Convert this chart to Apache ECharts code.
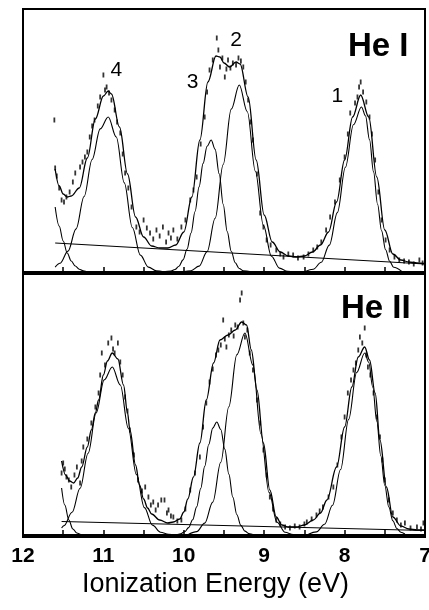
<!DOCTYPE html>
<html>
<head>
<meta charset="utf-8">
<script src="https://cdn.jsdelivr.net/npm/echarts@6/dist/echarts.min.js"></script>
<style>
html,body{margin:0;padding:0;background:#fff;}
#chart{width:429px;height:610px;}
</style>
</head>
<body>
<div id="chart"></div>
<script>
// ---------- axis ----------
const xTickLabels = [12, 11, 10, 9, 8, 7];
const xAxisTitle = 'Ionization Energy (eV)';
const panelTitles = ['He I', 'He II'];

// ---------- He I panel (top) : [energy eV, intensity] ----------
const heI_envelope = [[11.6,103],[11.55,86],[11.5,78],[11.45,75],[11.4,76],[11.3,84],[11.2,114],[11.1,153],[11.0,176],[10.94,181],[10.9,178],[10.8,145],[10.7,98],[10.6,55],[10.5,35],[10.4,26],[10.3,24],[10.2,24],[10.1,27],[10.0,40],[9.9,75],[9.8,132],[9.7,190],[9.6,216],[9.55,215],[9.5,209],[9.43,205],[9.35,210],[9.3,208],[9.2,175],[9.1,112],[9.0,57],[8.9,30],[8.8,20],[8.7,16],[8.6,15],[8.5,16],[8.4,20],[8.3,27],[8.2,40],[8.1,70],[8.0,112],[7.9,155],[7.8,177],[7.7,155],[7.6,95],[7.5,42],[7.4,18],[7.3,12],[7.2,10],[7.1,9],[7.0,8.5]];
const heI_baseline = [[11.6,29],[7.0,8]];
const heI_band5 = [[11.6,65],[11.55,46],[11.5,31],[11.45,19],[11.4,11],[11.35,6],[11.3,2.8],[11.25,1.1],[11.2,0.3],[11.15,0]];
const heI_band4 = [[11.6,4.8],[11.54,8.7],[11.44,20.9],[11.34,43.1],[11.24,75.5],[11.14,112.5],[11.04,143.1],[10.94,155],[10.84,135],[10.74,89.1],[10.64,44.5],[10.54,16.9],[10.44,4.9],[10.34,1.1],[10.24,0]];
const heI_band3 = [[10.26,0.1],[10.16,1.0],[10.11,2.5],[10.06,5.8],[10.01,12.1],[9.96,22.7],[9.91,39],[9.86,60.5],[9.81,85.1],[9.76,108.6],[9.71,125.7],[9.66,132],[9.61,122.6],[9.56,98.2],[9.51,67.8],[9.46,40.4],[9.41,20.8],[9.36,9.2],[9.31,3.5],[9.26,1.2],[9.16,0.1]];
const heI_band2 = [[10.01,0.2],[9.91,1.3],[9.81,5.9],[9.71,20.4],[9.61,53.7],[9.51,107.5],[9.41,162.9],[9.31,187],[9.21,160.3],[9.11,100.8],[9.01,46.6],[8.91,15.8],[8.81,3.9],[8.71,0.7],[8.61,0.1]];
const heI_band1 = [[8.49,0.6],[8.39,2.8],[8.29,9.7],[8.19,26.9],[8.09,59.4],[7.99,104.8],[7.89,147.3],[7.79,165],[7.74,156.1],[7.69,132.2],[7.64,100.1],[7.59,67.8],[7.54,41.1],[7.49,22.3],[7.44,10.8],[7.39,4.7],[7.29,0.6]];
const heI_points = [[11.61,152],[11.6,104],[11.58,96],[11.55,84],[11.52,72],[11.49,70],[11.46,75],[11.42,80],[11.38,90],[11.35,99],[11.29,105],[11.26,110],[11.23,115],[11.2,120],[11.17,135],[11.14,146],[11.11,152],[11.07,166],[11.04,175],[11.0,197],[10.98,182],[10.96,185],[10.93,179],[10.9,172],[10.86,162],[10.83,150],[10.79,139],[10.76,118],[10.73,99],[10.69,84],[10.65,65],[10.59,45],[10.55,40],[10.5,52],[10.46,44],[10.42,39],[10.38,33],[10.34,42],[10.3,36],[10.26,45],[10.22,30],[10.19,39],[10.16,34],[10.13,42],[10.08,33],[10.03,45],[9.98,52],[9.92,72],[9.88,82],[9.84,95],[9.79,128],[9.74,155],[9.71,180],[9.68,202],[9.64,212],[9.59,234],[9.57,222],[9.55,205],[9.52,214],[9.49,195],[9.47,203],[9.45,212],[9.42,204],[9.39,209],[9.35,207],[9.32,214],[9.29,211],[9.26,205],[9.23,190],[9.2,172],[9.17,150],[9.14,132],[9.09,98],[9.05,59],[9.01,45],[8.97,32],[8.92,27],[8.85,22],[8.8,18],[8.76,15],[8.7,18],[8.64,17],[8.58,14],[8.51,15],[8.45,18],[8.39,22],[8.34,25],[8.29,30],[8.23,42],[8.18,55],[8.12,70],[8.06,92],[8.0,115],[7.96,138],[7.93,159],[7.87,169],[7.84,175],[7.82,185],[7.8,190],[7.77,180],[7.73,170],[7.69,155],[7.66,138],[7.62,112],[7.58,80],[7.54,52],[7.49,32],[7.44,22],[7.38,15],[7.32,12],[7.26,11],[7.2,10],[7.14,8],[7.07,12],[7.03,9]];
const heI_peakLabels = [[10.84,202,'4'],[9.89,190,'3'],[9.35,232,'2'],[8.09,176,'1']];

// ---------- He II panel (bottom) ----------
const heII_envelope = [[11.52,74],[11.47,60],[11.42,54],[11.37,52],[11.32,57],[11.27,68],[11.2,88],[11.15,105],[11.1,122],[11.06,135],[11.0,160],[10.95,174],[10.89,182],[10.82,176],[10.75,150],[10.7,122],[10.67,105],[10.6,70],[10.55,50],[10.5,36],[10.45,27],[10.4,21],[10.3,15],[10.2,12],[10.13,13],[10.05,16],[10.0,23],[9.95,36],[9.88,58],[9.8,92],[9.72,135],[9.63,172],[9.55,195],[9.45,200],[9.36,205],[9.28,213],[9.22,210],[9.16,185],[9.09,145],[9.01,92],[8.93,45],[8.85,18],[8.78,10],[8.7,8],[8.6,8],[8.5,10],[8.39,15],[8.3,22],[8.22,35],[8.1,68],[8.0,108],[7.91,148],[7.83,178],[7.75,188],[7.69,175],[7.62,142],[7.56,95],[7.48,48],[7.4,18],[7.3,9],[7.2,6],[7.1,5],[7.0,5]];
const heII_baseline = [[11.52,13.5],[7.0,4.5]];
const heII_band5 = [[11.52,47],[11.48,30],[11.43,15],[11.38,6],[11.33,2],[11.28,0.5],[11.24,0]];
const heII_band4 = [[11.52,7.0],[11.49,9.4],[11.39,22.7],[11.29,46.7],[11.19,81.8],[11.09,122],[10.99,155.1],[10.89,168],[10.79,150],[10.69,106.7],[10.59,60.5],[10.49,27.4],[10.39,9.9],[10.29,2.8],[10.19,0.7],[10.09,0.1]];
const heII_band3 = [[10.14,0.1],[10.09,0.4],[10.04,1.2],[9.99,3.2],[9.94,7.4],[9.89,15.3],[9.84,28.1],[9.79,46.4],[9.74,68.6],[9.69,90.5],[9.64,106.9],[9.59,113],[9.54,105.5],[9.49,85.9],[9.44,60.9],[9.39,37.7],[9.34,20.3],[9.29,9.6],[9.24,3.9],[9.19,1.4],[9.14,0.4],[9.09,0.1]];
const heII_band2 = [[9.94,0.8],[9.84,3.4],[9.74,11.9],[9.64,32.9],[9.54,72.7],[9.44,128.3],[9.34,180.4],[9.24,202],[9.14,169.9],[9.04,101],[8.94,42.6],[8.84,12.7],[8.74,2.7],[8.64,0.4],[8.54,0]];
const heII_band1 = [[8.45,0.7],[8.35,3.1],[8.25,10.7],[8.15,29.7],[8.05,65.5],[7.95,115.6],[7.85,162.5],[7.75,182],[7.7,172.7],[7.65,147.8],[7.6,113.9],[7.55,79.2],[7.5,49.5],[7.45,28],[7.4,14.2],[7.35,6.5],[7.3,2.7],[7.25,1.0]];
const heII_points = [[11.52,62],[11.5,72],[11.48,66],[11.46,58],[11.43,55],[11.4,48],[11.36,60],[11.33,68],[11.29,52],[11.27,74],[11.25,88],[11.2,96],[11.15,112],[11.1,128],[11.06,142],[11.04,160],[11.02,182],[10.98,170],[10.94,192],[10.9,197],[10.88,186],[10.86,182],[10.82,192],[10.79,173],[10.76,160],[10.73,138],[10.7,124],[10.67,105],[10.62,80],[10.57,55],[10.52,44],[10.48,48],[10.44,38],[10.41,30],[10.38,33],[10.35,25],[10.32,30],[10.28,35],[10.24,35],[10.21,22],[10.19,25],[10.16,19],[10.13,18],[10.08,14],[10.03,15],[9.98,26],[9.92,45],[9.86,62],[9.8,78],[9.76,108],[9.72,132],[9.68,153],[9.64,166],[9.6,180],[9.57,185],[9.54,190],[9.51,215],[9.49,196],[9.47,188],[9.44,200],[9.41,205],[9.38,199],[9.36,210],[9.33,208],[9.3,235],[9.28,242],[9.26,212],[9.24,198],[9.21,205],[9.18,182],[9.14,165],[9.09,135],[9.05,112],[9.01,85],[8.97,60],[8.93,38],[8.89,26],[8.85,15],[8.8,11],[8.74,8],[8.68,7],[8.62,9],[8.56,8],[8.5,11],[8.47,13],[8.41,16],[8.35,20],[8.31,24],[8.27,28],[8.2,38],[8.14,48],[8.09,70],[8.04,98],[8.0,118],[7.96,142],[7.92,155],[7.89,165],[7.86,172],[7.83,185],[7.81,198],[7.78,192],[7.75,207],[7.73,180],[7.71,168],[7.68,160],[7.64,142],[7.6,118],[7.56,98],[7.53,75],[7.5,55],[7.45,35],[7.4,22],[7.35,15],[7.3,10],[7.25,12],[7.18,7],[7.1,8],[7.05,6],[7.02,12]];

// ---------- build ----------
const FONT = '"Liberation Sans", Arial, Helvetica, sans-serif';
const chart = echarts.init(document.getElementById('chart'), null, {renderer: 'canvas'});

function curve(data, idx, w) {
  return {type: 'line', data: data, xAxisIndex: idx, yAxisIndex: idx, showSymbol: false,
    smooth: 0.35, smoothMonotone: 'x', silent: true,
    lineStyle: {color: '#000', width: w || 1.1}, z: 3};
}
function dots(data, idx) {
  return {type: 'scatter', data: data, xAxisIndex: idx, yAxisIndex: idx, symbol: 'rect',
    symbolSize: [1.8, 5], itemStyle: {color: '#000'}, silent: true, z: 2};
}
function xAx(idx, showLabels) {
  return {type: 'value', gridIndex: idx, min: 7, max: 12, interval: 0.5, inverse: true,
    axisLine: {show: true, lineStyle: {color: '#000', width: 2}},
    axisTick: {show: true, inside: true, length: 5, lineStyle: {color: '#000', width: 1.5}},
    splitLine: {show: false},
    axisLabel: {show: showLabels, margin: 9, color: '#000', fontSize: 21, fontWeight: 'bold', fontFamily: FONT,
      formatter: v => (xTickLabels.indexOf(v) >= 0 ? String(v) : '')},
    name: showLabels ? xAxisTitle : '', nameLocation: 'middle', nameGap: 34,
    nameTextStyle: {color: '#000', fontSize: 27, fontFamily: FONT, padding: [0, 17, 0, 0]}};
}
function yAx(idx, mn, mx) {
  return {type: 'value', gridIndex: idx, min: mn, max: mx,
    axisLine: {show: false}, axisTick: {show: false}, axisLabel: {show: false}, splitLine: {show: false}};
}

const option = {
  animation: false,
  backgroundColor: '#fff',
  grid: [
    {left: 23, width: 402, top: 9, height: 264, show: true, borderColor: '#000', borderWidth: 2,
      containLabel: false, outerBoundsMode: 'none'},
    {left: 23, width: 402, top: 274, height: 263, show: true, borderColor: '#000', borderWidth: 2,
      containLabel: false, outerBoundsMode: 'none'}
  ],
  xAxis: [xAx(0, false), xAx(1, true)],
  yAxis: [yAx(0, -1, 263), yAx(1, -2, 261)],
  graphic: [
    {type: 'text', left: 348, top: 30, style: {text: panelTitles[0], font: 'bold 33px ' + FONT, fill: '#000'}},
    {type: 'text', left: 341, top: 292, style: {text: panelTitles[1], font: 'bold 33px ' + FONT, fill: '#000'}}
  ],
  series: [
    dots(heI_points, 0),
    curve(heI_baseline, 0), curve(heI_band5, 0), curve(heI_band4, 0), curve(heI_band3, 0),
    curve(heI_band2, 0), curve(heI_band1, 0), curve(heI_envelope, 0, 1.3),
    dots(heII_points, 1),
    curve(heII_baseline, 1), curve(heII_band5, 1), curve(heII_band4, 1), curve(heII_band3, 1),
    curve(heII_band2, 1), curve(heII_band1, 1), curve(heII_envelope, 1, 1.3)
  ]
};
chart.setOption(option);

// peak number labels placed at data coordinates through the library's own scales
const peakGraphics = heI_peakLabels.map(function (p) {
  const px = chart.convertToPixel({gridIndex: 0}, [p[0], p[1]]);
  return {type: 'text', x: px[0], y: px[1], z: 10,
    style: {text: p[2], font: '21px ' + FONT, fill: '#000', textAlign: 'center', textVerticalAlign: 'middle'}};
});
chart.setOption({graphic: option.graphic.concat(peakGraphics)});
</script>
</body>
</html>
